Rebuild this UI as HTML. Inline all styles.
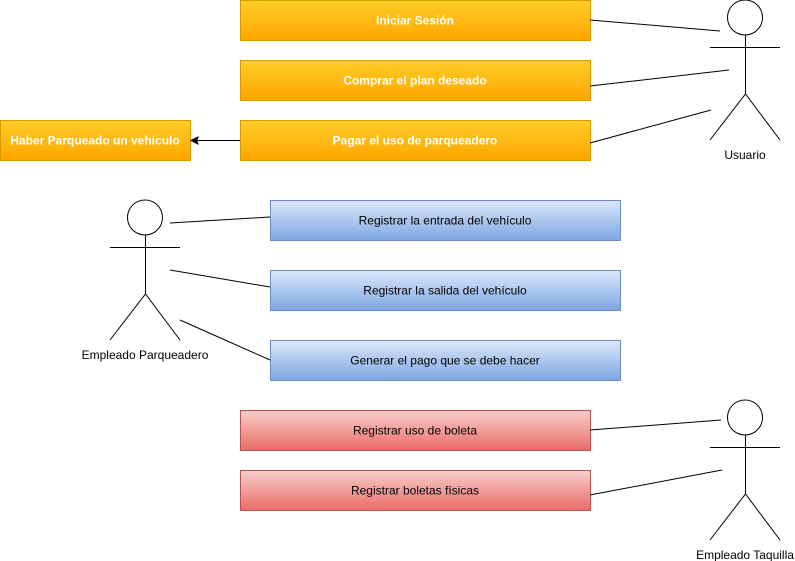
<!DOCTYPE html>
<html><head><meta charset="utf-8"><style>
html,body{margin:0;padding:0;background:#fff;}
svg{display:block;font-family:"Liberation Sans",Arial,sans-serif;}
</style></head><body>
<svg width="795" height="561" viewBox="0 0 795 561" xmlns="http://www.w3.org/2000/svg">
<defs>
<linearGradient id="o" x1="0" y1="0" x2="0" y2="1"><stop offset="0" stop-color="#ffcd28"/><stop offset="1" stop-color="#ffa500"/></linearGradient>
<linearGradient id="b" x1="0" y1="0" x2="0" y2="1"><stop offset="0" stop-color="#dae8fc"/><stop offset="1" stop-color="#7ea6e0"/></linearGradient>
<linearGradient id="r" x1="0" y1="0" x2="0" y2="1"><stop offset="0" stop-color="#f8cecc"/><stop offset="1" stop-color="#ea6b66"/></linearGradient>
</defs>
<g stroke="#d79b00" fill="url(#o)">
<rect x="240.5" y="0.5" width="350" height="40"/>
<rect x="240.5" y="60.5" width="350" height="40"/>
<rect x="240.5" y="120.5" width="350" height="40"/>
<rect x="0.5" y="120.5" width="190" height="40"/>
</g>
<g fill="#fff" font-size="12" font-weight="bold" text-anchor="middle">
<text x="415" y="24.5">Iniciar Sesión</text>
<text x="415" y="84.5">Comprar el plan deseado</text>
<text x="415" y="144.5">Pagar el uso de parqueadero</text>
<text x="95" y="144.5">Haber Parqueado un vehículo</text>
</g>
<g stroke="#6c8ebf" fill="url(#b)">
<rect x="270.5" y="200.5" width="350" height="40"/>
<rect x="270.5" y="270.5" width="350" height="40"/>
<rect x="270.5" y="340.5" width="350" height="40"/>
</g>
<g stroke="#b85450" fill="url(#r)">
<rect x="240.5" y="410.5" width="350" height="40"/>
<rect x="240.5" y="470.5" width="350" height="40"/>
</g>
<g fill="#000" font-size="12" text-anchor="middle">
<text x="445" y="224.5">Registrar la entrada del vehículo</text>
<text x="445" y="294.5">Registrar la salida del vehículo</text>
<text x="445" y="364.5">Generar el pago que se debe hacer</text>
<text x="415" y="434.5">Registrar uso de boleta</text>
<text x="415" y="494.5">Registrar boletas físicas</text>
<text x="745" y="159">Usuario</text>
<text x="145" y="359">Empleado Parqueadero</text>
<text x="745" y="559">Empleado Taquilla</text>
</g>
<g stroke="#000" stroke-width="1" fill="none">
<line x1="590" y1="20" x2="720" y2="31"/>
<line x1="590" y1="86" x2="729" y2="70"/>
<line x1="590" y1="143" x2="711" y2="110"/>
<line x1="240" y1="140.5" x2="197" y2="140.5"/>
<line x1="170" y1="223" x2="270" y2="217"/>
<line x1="170" y1="270" x2="270" y2="287"/>
<line x1="180" y1="320" x2="270" y2="360"/>
<line x1="590" y1="430" x2="721" y2="420"/>
<line x1="590" y1="495" x2="722" y2="470"/>
</g>
<polygon points="191,140.5 198,137 196.5,140.5 198,144" fill="#000" stroke="#000"/>
<g stroke="#000" fill="#fff">
<circle cx="745" cy="17.5" r="17.5"/>
<circle cx="145" cy="217.5" r="17.5"/>
<circle cx="745" cy="417.5" r="17.5"/>
</g>
<g stroke="#000" fill="none">
<path d="M745.5 35V94M710 47.5H780M710 140L745.5 94L780 140"/>
<path d="M145.5 235V294M110 247.5H180M110 340L145.5 294L180 340"/>
<path d="M745.5 435V494M710 447.5H780M710 540L745.5 494L780 540"/>
</g>
</svg>
</body></html>
